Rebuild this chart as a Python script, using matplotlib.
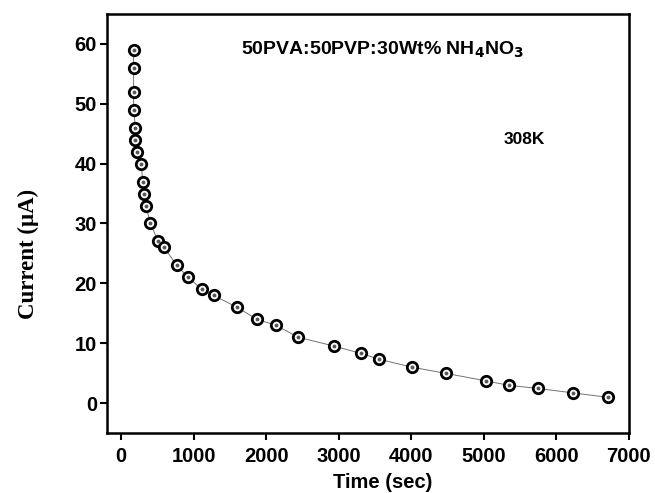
import matplotlib
matplotlib.use('Agg')
import matplotlib.pyplot as plt

plt.rcParams['font.family'] = ['Liberation Sans', 'DejaVu Sans']
plt.rcParams['font.weight'] = 'bold'

# time (sec) and current (uA)
time_s = [170, 170, 170, 170, 196, 190, 218, 273, 297, 315, 338, 403, 508, 590,
          767, 923, 1112, 1273, 1595, 1872, 2130, 2442, 2940, 3308, 3561, 4010,
          4482, 5035, 5352, 5749, 6227, 6716]
current_uA = [59, 56, 52, 49, 46, 44, 42, 40, 37, 35, 33, 30, 27, 26,
              23, 21, 19, 18, 16, 14, 13, 11, 9.5, 8.3, 7.3, 6,
              4.95, 3.7, 2.95, 2.45, 1.7, 0.95]
xticks = [0, 1000, 2000, 3000, 4000, 5000, 6000, 7000]
yticks = [0, 10, 20, 30, 40, 50, 60]

fig = plt.figure(figsize=(6.55, 4.93), dpi=100)
ax = fig.add_axes([0.163, 0.1217, 0.797, 0.85])

ax.plot(time_s, current_uA, color='0.45', linewidth=0.7, zorder=1)
ax.plot(time_s, current_uA, linestyle='none', marker='o', markersize=7.5,
        markerfacecolor='white', markeredgecolor='black', markeredgewidth=2.0, zorder=2)
ax.plot(time_s, current_uA, linestyle='none', marker='o', markersize=1.8,
        markerfacecolor='0.35', markeredgecolor='0.35', zorder=3)

ax.set_xlim(-200, 7000)
ax.set_ylim(-5, 65)
ax.set_xticks(xticks)
ax.set_yticks(yticks)
ax.tick_params(direction='out', length=5, width=1.5, labelsize=14.5)
ax.tick_params(axis='x', pad=5)
ax.tick_params(axis='y', pad=2)
for lab in ax.get_xticklabels() + ax.get_yticklabels():
    lab.set_fontweight('bold')
for sp in ax.spines.values():
    sp.set_linewidth(1.8)

ax.set_xlabel('Time (sec)', fontsize=14.5, fontweight='bold', va='center')
ax.xaxis.set_label_coords(0.529, -0.118)
ax.set_ylabel('Current (μA)', fontsize=16.5, fontweight='bold', va='center',
              family=['Liberation Serif', 'DejaVu Serif'])
ax.yaxis.set_label_coords(-0.15, 0.427)

ax.text(0.529, 0.915, r'50PVA:50PVP:30Wt% NH$_\mathbf{4}$NO$_\mathbf{3}$',
        transform=ax.transAxes, ha='center', va='center', fontsize=14, fontweight='bold')
ax.text(0.80, 0.70, '308K', transform=ax.transAxes, ha='center', va='center',
        fontsize=12.5, fontweight='bold')

fig.savefig('out.png', dpi=100)
